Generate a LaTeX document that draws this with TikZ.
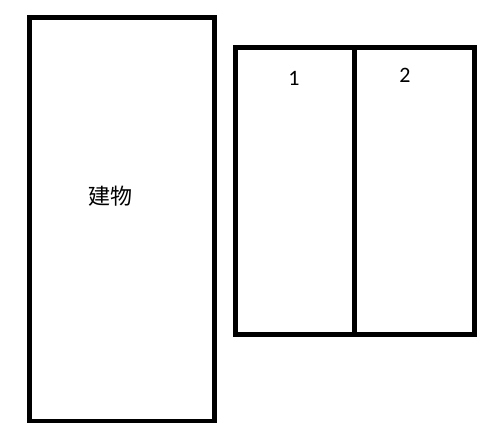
\documentclass[tikz,border=0pt]{standalone}
\usepackage{fontspec}
\setmainfont{Carlito}
\newfontfamily\cjk{Noto Sans CJK JP}
\begin{document}
\begin{tikzpicture}[x=1pt,y=1pt,
  box/.style={draw=black,line width=4.6pt},
  lbl/.style={font=\fontsize{22}{26}\selectfont,inner sep=0pt}]
\useasboundingbox (0,0) rectangle (500,437);
\node[box,minimum width=184.8pt,minimum height=403.3pt,inner sep=0pt,outer sep=0pt] (bldg) at (121.9,217.65) {};
\node[box,minimum width=119pt,minimum height=286.6pt,inner sep=0pt] (p1) at (295.15,246) {};
\node[box,minimum width=119.3pt,minimum height=286.6pt,inner sep=0pt] (p2) at (414.65,246) {};
\node[lbl] (t1) at (294,359) {1};
\node[lbl] (t2) at (405,362) {2};
\node[lbl,font=\cjk\fontsize{22}{26}\selectfont] (tb) at (110,241) {建物};
\end{tikzpicture}
\end{document}
